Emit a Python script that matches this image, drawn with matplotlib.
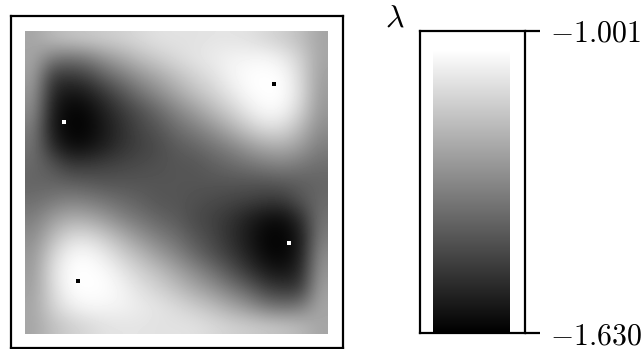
import numpy as np
import matplotlib
matplotlib.use("Agg")
import matplotlib.pyplot as plt

plt.rcParams['mathtext.fontset'] = 'cm'

LAMBDA_MIN = -1.630
LAMBDA_MAX = -1.001
TICK_LABELS = ['$-1.630$', '$-1.001$']
COLOR_LABEL = r'$\lambda$'

# Grey levels (0 = lambda min, 255 = lambda max), top row first
row_01 = [165, 185, 195, 200, 205, 210, 218, 225, 226, 225, 228, 228, 225, 215, 205, 190, 165]
row_02 = [165, 125, 115, 125, 150, 170, 190, 205, 218, 228, 235, 242, 245, 247, 235, 208, 165]
row_03 = [160, 60, 55, 68, 100, 125, 150, 170, 192, 210, 225, 243, 253, 255, 252, 215, 160]
row_04 = [150, 40, 18, 28, 55, 85, 115, 140, 165, 190, 208, 230, 250, 255, 254, 220, 155]
row_05 = [140, 28, 4, 8, 32, 58, 80, 105, 132, 155, 182, 205, 232, 250, 245, 208, 150]
row_06 = [125, 25, 3, 5, 25, 48, 70, 85, 108, 125, 145, 172, 198, 218, 215, 182, 140]
row_07 = [115, 45, 12, 15, 32, 52, 65, 75, 90, 100, 115, 130, 152, 168, 172, 155, 125]
row_08 = [105, 85, 58, 58, 65, 70, 75, 80, 85, 85, 95, 105, 115, 125, 130, 120, 110]
row_09 = [100, 100, 95, 90, 85, 85, 85, 85, 85, 85, 85, 85, 85, 85, 90, 95, 100]
row_10 = [110, 120, 130, 125, 115, 105, 95, 85, 85, 80, 75, 70, 65, 58, 58, 85, 105]
row_11 = [125, 155, 172, 168, 152, 130, 115, 100, 90, 75, 65, 52, 32, 15, 12, 45, 115]
row_12 = [140, 182, 215, 218, 198, 172, 145, 125, 108, 85, 70, 48, 25, 5, 3, 25, 125]
row_13 = [150, 208, 245, 250, 232, 205, 182, 155, 132, 105, 80, 58, 32, 8, 4, 28, 140]
row_14 = [155, 220, 254, 255, 250, 230, 208, 190, 165, 140, 115, 85, 55, 28, 18, 40, 150]
row_15 = [160, 215, 252, 255, 253, 243, 225, 210, 192, 170, 150, 125, 100, 68, 55, 60, 160]
row_16 = [165, 208, 235, 247, 245, 242, 235, 228, 218, 205, 190, 170, 150, 125, 115, 125, 165]
row_17 = [165, 190, 205, 215, 225, 228, 228, 225, 226, 225, 218, 210, 205, 200, 195, 185, 165]

grey_rows = [row_01, row_02, row_03, row_04, row_05, row_06, row_07, row_08, row_09,
             row_10, row_11, row_12, row_13, row_14, row_15, row_16, row_17]

# Extremum locations, fraction of the map (x from left, y from top)
dark_x = [0.130, 0.870]
dark_y = [0.299, 0.700]
bright_x = [0.823, 0.176]
bright_y = [0.176, 0.824]

W, H = 644, 349
fig = plt.figure(figsize=(W / 100, H / 100), dpi=100, facecolor='white')

def axes_px(x0, y0, x1, y1):
    return fig.add_axes([x0 / W, 1 - y1 / H, (x1 - x0) / W, (y1 - y0) / H])

# Map panel
ax = axes_px(11, 16, 343, 348)
img_x0, img_x1, img_y0, img_y1 = 25, 328, 31, 334
px = img_x1 - img_x0
field = LAMBDA_MIN + np.array(grey_rows, dtype=float) / 255 * (LAMBDA_MAX - LAMBDA_MIN)
ax.imshow(field, cmap='gray', vmin=LAMBDA_MIN, vmax=LAMBDA_MAX, extent=[0, 1, 1, 0],
          interpolation='bicubic', aspect='auto')
ax.set_xlim((11 - img_x0) / px, (343 - img_x0) / px)
ax.set_ylim((348 - img_y0) / px, (16 - img_y0) / px)
ax.scatter(dark_x, dark_y, marker='s', s=11, c='white', linewidths=0)
ax.scatter(bright_x, bright_y, marker='s', s=11, c='black', linewidths=0)
ax.set_xticks([])
ax.set_yticks([])
for s in ax.spines.values():
    s.set_linewidth(1.6)

# Colour bar
cax = axes_px(419.5, 30.5, 525, 333)
ramp = np.linspace(LAMBDA_MIN, LAMBDA_MAX, 256).reshape(-1, 1)
top = LAMBDA_MAX - (50 - 30.5) / (333 - 30.5) * (LAMBDA_MAX - LAMBDA_MIN)
cax.imshow(ramp, cmap='gray', vmin=LAMBDA_MIN, vmax=LAMBDA_MAX, origin='lower',
           extent=[433, 510, LAMBDA_MIN, top], aspect='auto', interpolation='bilinear')
cax.set_xlim(419.5, 525)
cax.set_ylim(LAMBDA_MIN, LAMBDA_MAX)
cax.set_xticks([])
cax.yaxis.tick_right()
cax.set_yticks([LAMBDA_MIN, LAMBDA_MAX])
cax.set_yticklabels(TICK_LABELS, fontsize=21.5)
cax.tick_params(axis='y', length=11, width=1.6, pad=7)
for s in cax.spines.values():
    s.set_linewidth(1.6)
fig.text(395 / W, 1 - 18 / H, COLOR_LABEL, fontsize=23, ha='center', va='center')

fig.savefig('out.png', dpi=100, facecolor='white')
